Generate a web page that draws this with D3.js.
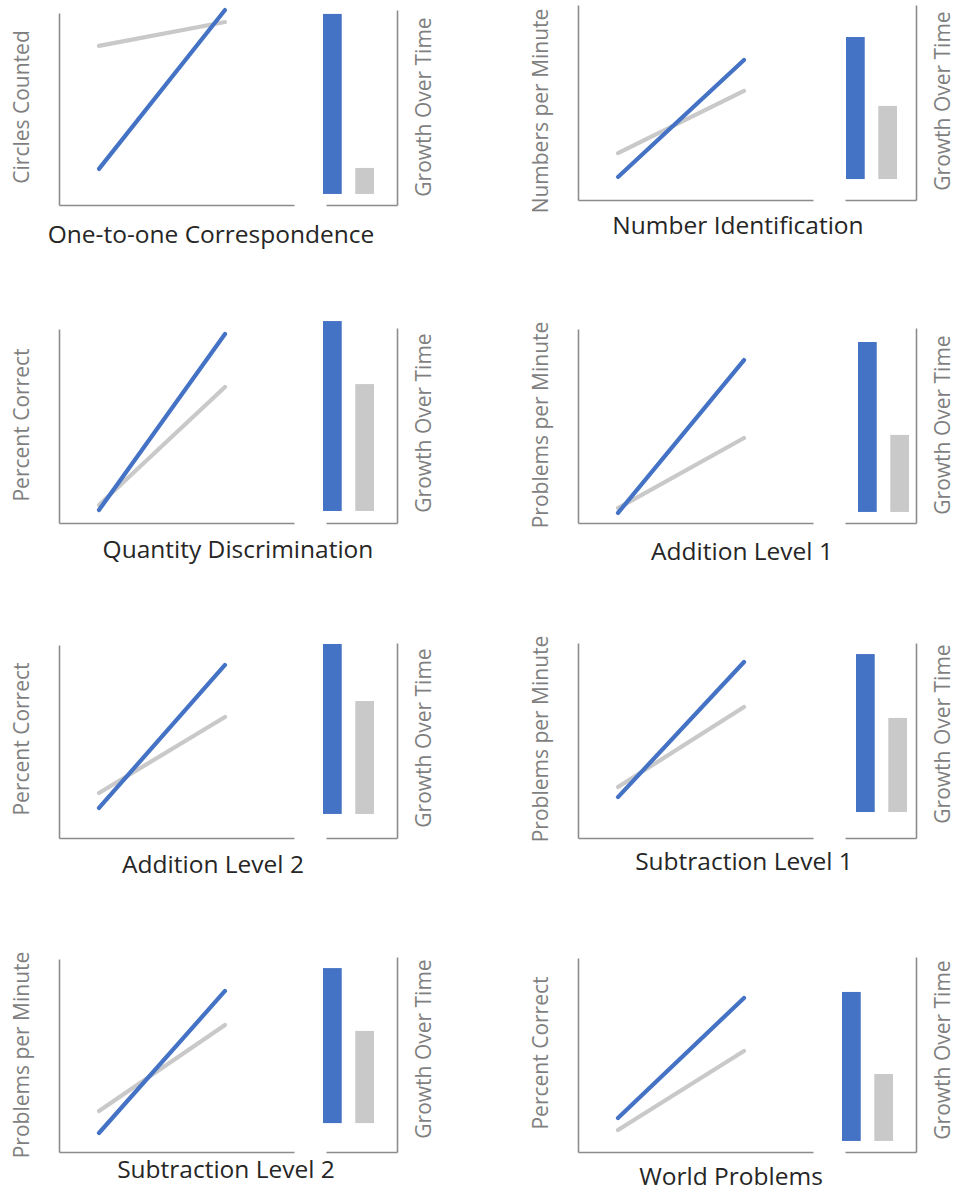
<!DOCTYPE html>
<html>
<head>
<meta charset="utf-8">
<script src="https://cdn.jsdelivr.net/npm/d3@7"></script>
<style>
  html, body { margin: 0; padding: 0; background: #ffffff; }
  svg { display: block; }
  text { font-family: "Open Sans", "Noto Sans", sans-serif; }
</style>
</head>
<body>
<svg id="chart" width="955" height="1193"></svg>
<script>
// ---- data ----
const skills = ["One-to-one Correspondence", "Number Identification", "Quantity Discrimination", "Addition Level 1",
                "Addition Level 2", "Subtraction Level 1", "Subtraction Level 2", "World Problems"];
const measures = ["Circles Counted", "Numbers per Minute", "Percent Correct", "Problems per Minute",
                  "Percent Correct", "Problems per Minute", "Problems per Minute", "Percent Correct"];
const barAxisLabel = "Growth Over Time";
const timePoints = ["Start", "End"];
const groups = ["Blue", "Gray"];
// line values (relative score units, 0 = baseline, 100 = top of axis)
const bluePre  = [18.6, 11.9, 6.7, 5.2, 15.5, 21.1, 9.8, 17.5];
const bluePost = [100.5, 72.2, 97.4, 84.0, 89.2, 90.7, 83.0, 79.4];
const grayPre  = [82.0, 24.2, 9.3, 7.7, 23.2, 26.3, 21.1, 11.3];
const grayPost = [94.3, 56.2, 70.1, 43.8, 62.4, 67.5, 65.5, 52.1];
// growth bars (floating from base to top)
const barBase    = [5.7, 10.8, 6.2, 5.7, 12.4, 13.4, 14.9, 5.7];
const blueGrowth = [98.5, 84.0, 104.1, 93.3, 100.0, 94.8, 94.8, 82.5];
const grayGrowth = [19.1, 48.5, 71.6, 45.4, 70.6, 61.9, 62.4, 40.2];

// ---- layout (positions only) ----
const layout = [
  {ox: 59,  base: 205,  axTop: 192, titleX: 211, titleY: 243,  labelY: 107,  growthY: 107,  barX: 264},
  {ox: 578, base: 200,  axTop: 195, titleX: 738, titleY: 234,  labelY: 111,  growthY: 101,  barX: 268},
  {ox: 59,  base: 523,  axTop: 194, titleX: 238, titleY: 558,  labelY: 425,  growthY: 423,  barX: 264},
  {ox: 578, base: 523,  axTop: 194, titleX: 742, titleY: 560,  labelY: 425,  growthY: 425,  barX: 280},
  {ox: 59,  base: 838,  axTop: 193, titleX: 213, titleY: 873,  labelY: 739,  growthY: 738,  barX: 264},
  {ox: 578, base: 838,  axTop: 195, titleX: 744, titleY: 870,  labelY: 739,  growthY: 734,  barX: 278},
  {ox: 59,  base: 1152, axTop: 193, titleX: 226, titleY: 1178, labelY: 1055, growthY: 1049, barX: 264},
  {ox: 578, base: 1152, axTop: 194, titleX: 731, titleY: 1185, labelY: 1053, growthY: 1050, barX: 264}
];
const colors = {Blue: "#4472C4", Gray: "#C9C9C9"};
const axisColor = "#8c8c8c";

const svg = d3.select("#chart");

skills.forEach((skill, i) => {
  const L = layout[i];
  const g = svg.append("g");
  const y = d3.scaleLinear().domain([0, 100]).range([L.base, L.base - 194]);
  const yAxisScale = d3.scaleLinear().domain([0, 100]).range([L.base, L.base - L.axTop]);
  const xAxisScale = d3.scaleLinear().domain([0, 1]).range([L.ox, L.ox + 235]);
  const x = d3.scalePoint().domain(timePoints).range([L.ox + 40, L.ox + 166]);

  // left axis
  const ya = g.append("g").attr("transform", `translate(${L.ox},0)`)
    .call(d3.axisLeft(yAxisScale).ticks(0).tickSize(0).tickSizeOuter(0));
  const xa = g.append("g").attr("transform", `translate(0,${L.base})`)
    .call(d3.axisBottom(xAxisScale).ticks(0).tickSize(0).tickSizeOuter(0));

  // bar area axes
  const bx = d3.scaleLinear().domain([0, 1]).range([L.ox + 267, L.ox + 338]);
  const byAxis = d3.scaleLinear().domain([0, 100]).range([L.base, L.base - 195]);
  const bxa = g.append("g").attr("transform", `translate(0,${L.base})`)
    .call(d3.axisBottom(bx).ticks(0).tickSize(0).tickSizeOuter(0));
  const bya = g.append("g").attr("transform", `translate(${L.ox + 338},0)`)
    .call(d3.axisRight(byAxis).ticks(0).tickSize(0).tickSizeOuter(0));
  [ya, xa, bxa, bya].forEach(a => a.select(".domain").attr("stroke", axisColor).attr("stroke-width", 1.6));

  // lines
  const line = d3.line().x((d, k) => x(timePoints[k])).y(d => y(d));
  const series = [
    {key: "Gray", values: [grayPre[i], grayPost[i]]},
    {key: "Blue", values: [bluePre[i], bluePost[i]]}
  ];
  g.selectAll("path.series").data(series).join("path")
    .attr("class", "series")
    .attr("d", d => line(d.values))
    .attr("fill", "none")
    .attr("stroke", d => colors[d.key])
    .attr("stroke-width", 4.2)
    .attr("stroke-linecap", "round");

  // bars
  const band = d3.scaleBand().domain(groups).range([L.ox + L.barX, L.ox + L.barX + 51]).paddingInner(0.42).paddingOuter(0);
  const bars = [
    {key: "Blue", top: blueGrowth[i]},
    {key: "Gray", top: grayGrowth[i]}
  ];
  g.selectAll("rect.bar").data(bars).join("rect")
    .attr("class", "bar")
    .attr("x", d => band(d.key))
    .attr("width", band.bandwidth())
    .attr("y", d => y(d.top))
    .attr("height", d => y(barBase[i]) - y(d.top))
    .attr("fill", d => colors[d.key]);

  // texts
  g.append("text")
    .attr("x", L.titleX)
    .attr("y", L.titleY)
    .attr("text-anchor", "middle")
    .attr("font-size", 24.5)
    .attr("fill", "#262626")
    .text(skill);

  g.append("text")
    .attr("transform", `translate(${L.ox - 30},${L.labelY}) rotate(-90)`)
    .attr("text-anchor", "middle")
    .attr("font-size", 21)
    .attr("fill", "#7f7f7f")
    .text(measures[i]);

  g.append("text")
    .attr("transform", `translate(${L.ox + 372},${L.growthY}) rotate(-90)`)
    .attr("text-anchor", "middle")
    .attr("font-size", 21)
    .attr("fill", "#7f7f7f")
    .text(barAxisLabel);
});
</script>
</body>
</html>
